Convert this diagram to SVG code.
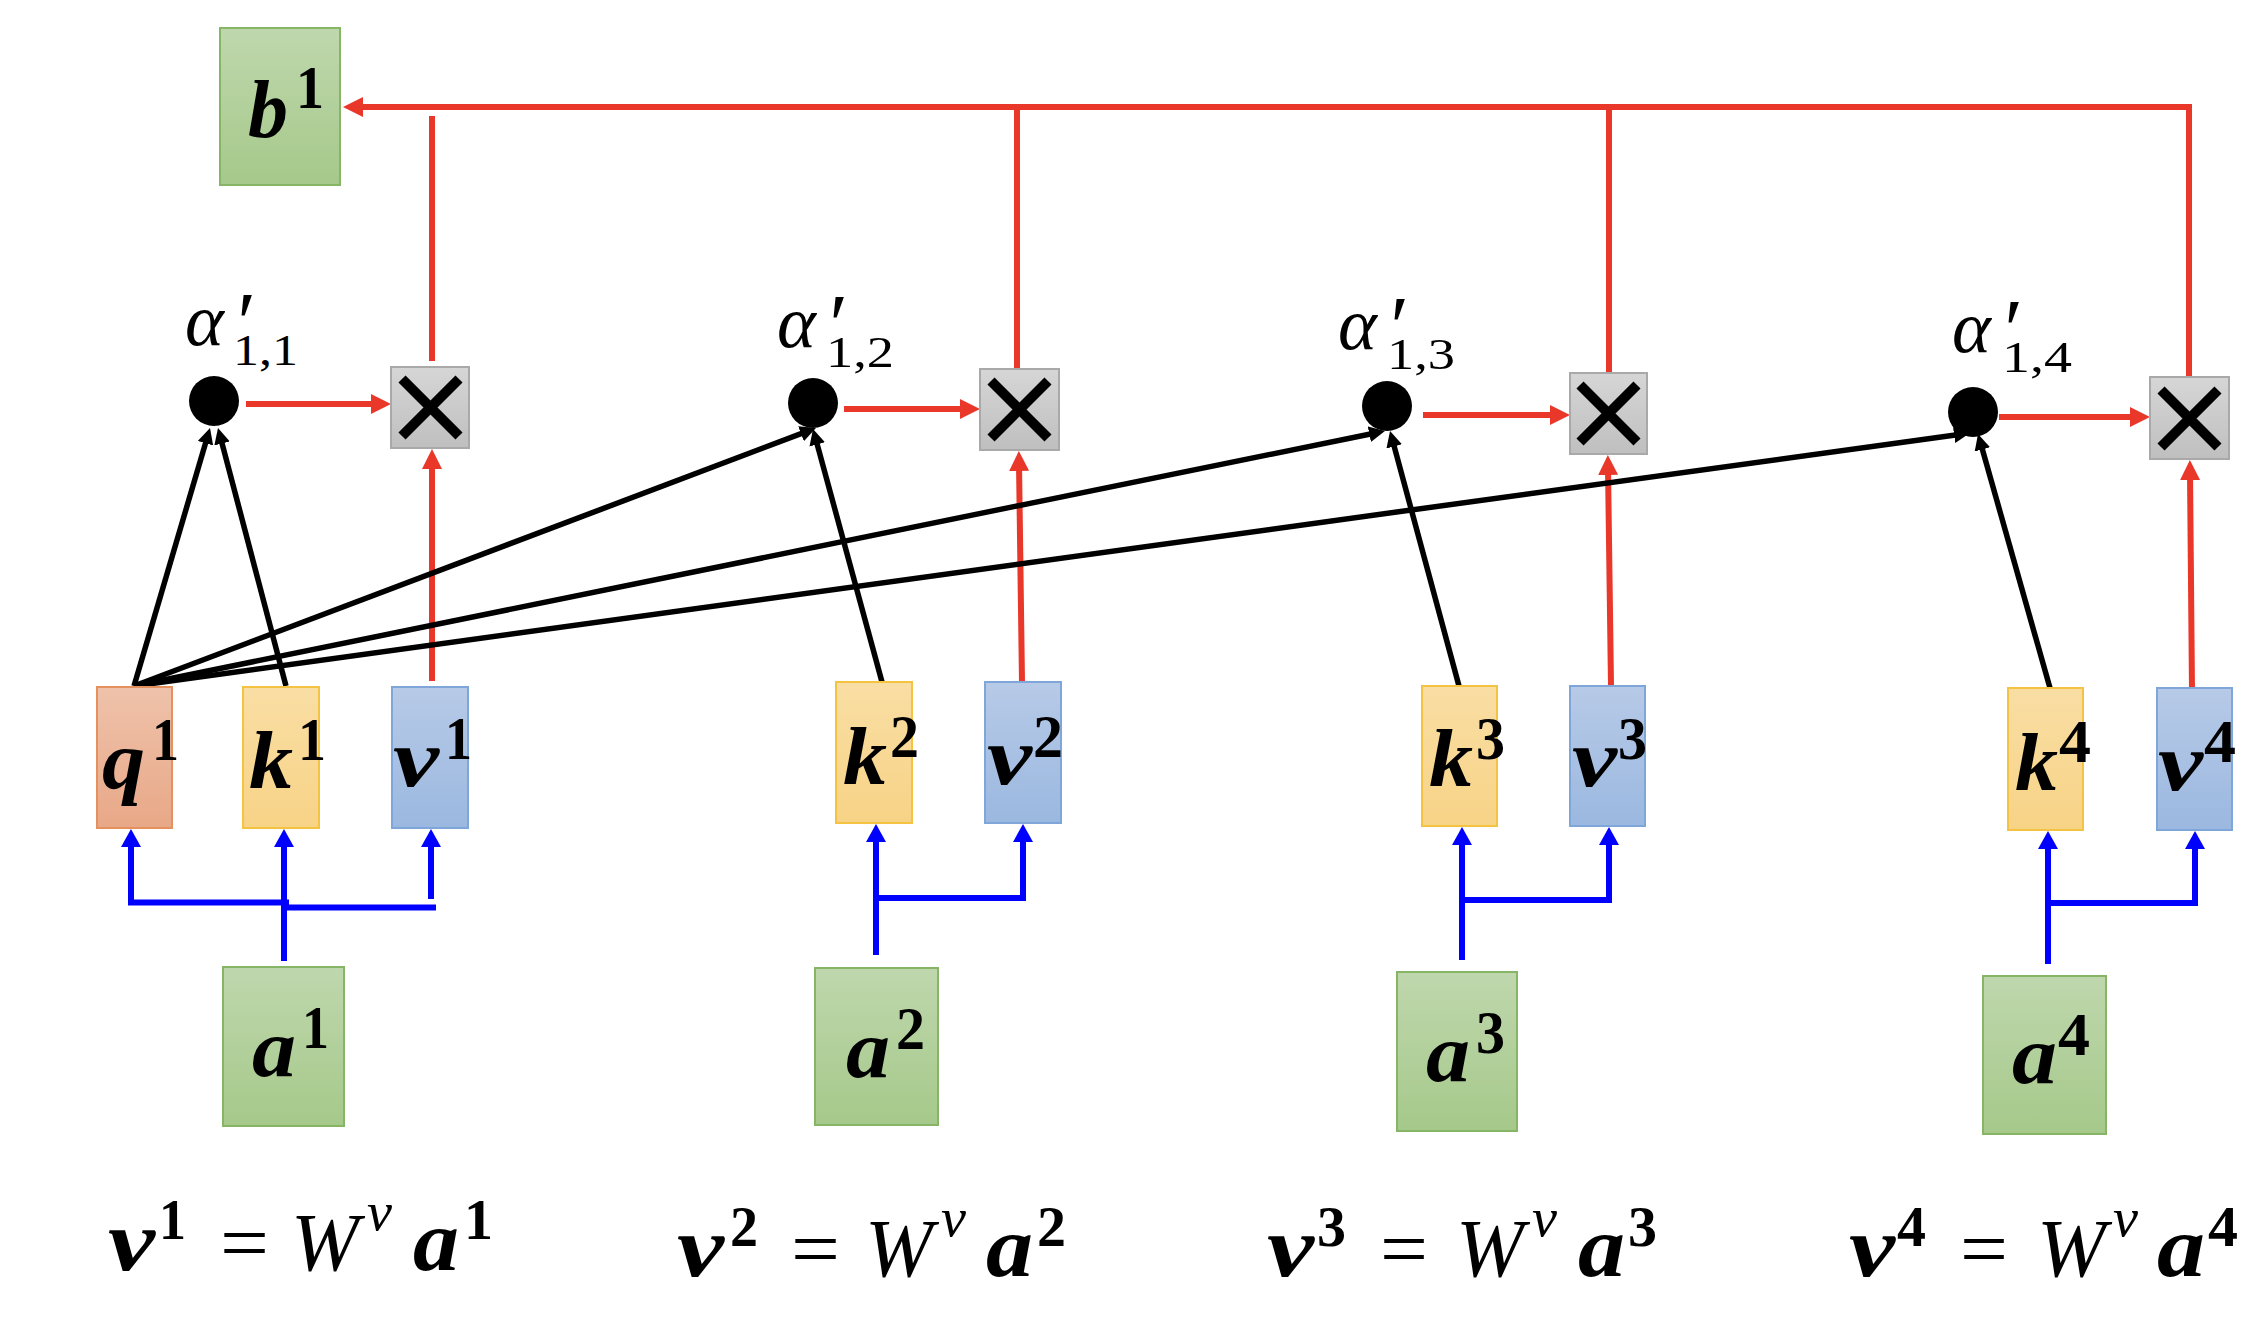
<svg xmlns="http://www.w3.org/2000/svg" width="2259" height="1319" viewBox="0 0 2259 1319">
<style>
.m{font-family:"Liberation Serif","DejaVu Serif",serif;font-weight:bold;font-style:italic;font-size:82px;fill:#000}
.d{font-family:"Liberation Serif","DejaVu Serif",serif;font-weight:bold;font-size:61px;fill:#000}
.eb{font-family:"Liberation Serif","DejaVu Serif",serif;font-weight:bold;font-style:italic;font-size:86px;fill:#000}
.ed{font-family:"Liberation Serif","DejaVu Serif",serif;font-weight:bold;font-size:58px;fill:#000}
.ei{font-family:"Liberation Serif","DejaVu Serif",serif;font-style:italic;font-size:82px;fill:#000}
.er{font-family:"Liberation Serif","DejaVu Serif",serif;font-size:80px;fill:#000}
.es{font-family:"Liberation Serif","DejaVu Serif",serif;font-style:italic;font-size:54px;fill:#000}
.al{font-family:"Liberation Serif","DejaVu Serif",serif;font-style:italic;font-size:74px;fill:#000}
.pr{font-family:"Liberation Serif","DejaVu Serif",serif;font-size:86px}
.sb{font-family:"Liberation Serif","DejaVu Serif",serif;font-style:normal;font-size:44px}
.gb{fill:url(#gG);stroke:#86b566;stroke-width:2}
.qb{fill:url(#gQ);stroke:#e4915f;stroke-width:2}
.kb{fill:url(#gK);stroke:#f5c342;stroke-width:2}
.vb{fill:url(#gV);stroke:#7ea6d8;stroke-width:2}
.xb{fill:url(#gX);stroke:#a9a9a9;stroke-width:2}
.xs{stroke:#000;stroke-width:10;fill:none}
.red{stroke:#e9372a;stroke-width:6;fill:none}
.redA{stroke:#e9372a;stroke-width:6;fill:none;marker-end:url(#aR)}
.blu{stroke:#0000ff;stroke-width:6;fill:none}
.bluA{stroke:#0000ff;stroke-width:6;fill:none;marker-end:url(#aB)}
.blkA{stroke:#000;stroke-width:5.5;fill:none;marker-end:url(#aK)}
</style>
<defs>
<linearGradient id="gG" x1="0" y1="0" x2="0" y2="1"><stop offset="0" stop-color="#bfd7ad"/><stop offset="1" stop-color="#a5c98a"/></linearGradient>
<linearGradient id="gQ" x1="0" y1="0" x2="0" y2="1"><stop offset="0" stop-color="#efc2ab"/><stop offset="1" stop-color="#e8a887"/></linearGradient>
<linearGradient id="gK" x1="0" y1="0" x2="0" y2="1"><stop offset="0" stop-color="#f9dea4"/><stop offset="1" stop-color="#f7d386"/></linearGradient>
<linearGradient id="gV" x1="0" y1="0" x2="0" y2="1"><stop offset="0" stop-color="#b7cae7"/><stop offset="1" stop-color="#9bb8e0"/></linearGradient>
<linearGradient id="gX" x1="0" y1="0" x2="0" y2="1"><stop offset="0" stop-color="#d6d6d6"/><stop offset="1" stop-color="#bfbfbf"/></linearGradient>
<marker id="aR" markerUnits="userSpaceOnUse" markerWidth="22" markerHeight="22" refX="8" refY="10" orient="auto"><path d="M0,0 L20,10 L0,20 z" fill="#e9372a"/></marker>
<marker id="aB" markerUnits="userSpaceOnUse" markerWidth="22" markerHeight="22" refX="6" refY="10" orient="auto"><path d="M0,0 L18,10 L0,20 z" fill="#0000ff"/></marker>
<marker id="aK" markerUnits="userSpaceOnUse" markerWidth="18" markerHeight="18" refX="5" refY="8" orient="auto"><path d="M0,0 L16,8 L0,16 z" fill="#000"/></marker>
</defs>
<rect width="2259" height="1319" fill="#fff"/>

<g id="connectors">
<path class="redA" d="M2189,377 V107 H355"/>
<path class="red" d="M1017,369 V104"/>
<path class="red" d="M1609,373 V104"/>
<path class="red" d="M432,361 V116"/>
<path class="redA" d="M246,404 H379"/>
<path class="redA" d="M844,409 H968"/>
<path class="redA" d="M1423,415 H1558"/>
<path class="redA" d="M1999,417 H2138"/>
<path class="redA" d="M432,681 V461"/>
<path class="redA" d="M1022,682 L1019,463"/>
<path class="redA" d="M1611,686 L1608,467"/>
<path class="redA" d="M2192,691 L2190,472"/>
<path class="blkA" d="M134,686 L206.9,438.5"/>
<path class="blkA" d="M286,686 L220.8,438.6"/>
<path class="blkA" d="M134,686 L805.7,431.9"/>
<path class="blkA" d="M882,682 L815.9,439.6"/>
<path class="blkA" d="M134,686 L1374.2,433.2"/>
<path class="blkA" d="M1459,686 L1392.9,441.6"/>
<path class="blkA" d="M134,686 L1959.1,434.5"/>
<path class="blkA" d="M2050,688 L1981,444.6"/>
<path class="bluA" d="M284,961 V841"/>
<path class="bluA" d="M289,902.5 H131 V841"/>
<path class="blu" d="M287,907.5 H436"/>
<path class="bluA" d="M431,899 V841"/>
<path class="bluA" d="M876,955 V836"/>
<path class="bluA" d="M876,898 H1023 V836"/>
<path class="bluA" d="M1462,960 V839"/>
<path class="bluA" d="M1462,900 H1609 V839"/>
<path class="bluA" d="M2048,964 V843"/>
<path class="bluA" d="M2048,903 H2195 V843"/>
</g>

<g id="b1"><rect class="gb" x="220" y="28" width="120" height="157"/><text class="m" x="248" y="137" textLength="40" lengthAdjust="spacingAndGlyphs">b</text><text class="d" x="296" y="108" textLength="28" lengthAdjust="spacingAndGlyphs">1</text></g>

<g id="q1"><rect class="qb" x="97" y="687" width="75" height="141"/><text class="m" x="102" y="788" textLength="43" lengthAdjust="spacingAndGlyphs">q</text><text class="d" x="152" y="760" textLength="27" lengthAdjust="spacingAndGlyphs">1</text></g>
<g id="k1"><rect class="kb" x="243" y="687" width="76" height="141"/><text class="m" x="249" y="788" textLength="44" lengthAdjust="spacingAndGlyphs">k</text><text class="d" x="298" y="760" textLength="28" lengthAdjust="spacingAndGlyphs">1</text></g>
<g id="v1"><rect class="vb" x="392" y="687" width="76" height="141"/><text class="m" x="393" y="786" textLength="46" lengthAdjust="spacingAndGlyphs">v</text><text class="d" x="445" y="759" textLength="27" lengthAdjust="spacingAndGlyphs">1</text></g>
<g id="a1"><rect class="gb" x="223" y="967" width="121" height="159"/><text class="m" x="252" y="1076" textLength="44" lengthAdjust="spacingAndGlyphs">a</text><text class="d" x="302" y="1048" textLength="27" lengthAdjust="spacingAndGlyphs">1</text></g>

<g id="k2"><rect class="kb" x="836" y="682" width="76" height="141"/><text class="m" x="843" y="784" textLength="44" lengthAdjust="spacingAndGlyphs">k</text><text class="d" x="890" y="757" textLength="29" lengthAdjust="spacingAndGlyphs">2</text></g>
<g id="v2"><rect class="vb" x="985" y="682" width="76" height="141"/><text class="m" x="987" y="784" textLength="45" lengthAdjust="spacingAndGlyphs">v</text><text class="d" x="1033" y="757" textLength="30" lengthAdjust="spacingAndGlyphs">2</text></g>
<g id="a2"><rect class="gb" x="815" y="968" width="123" height="157"/><text class="m" x="846" y="1077" textLength="44" lengthAdjust="spacingAndGlyphs">a</text><text class="d" x="896" y="1049" textLength="29" lengthAdjust="spacingAndGlyphs">2</text></g>

<g id="k3"><rect class="kb" x="1422" y="686" width="75" height="140"/><text class="m" x="1429" y="786" textLength="44" lengthAdjust="spacingAndGlyphs">k</text><text class="d" x="1476" y="759" textLength="29" lengthAdjust="spacingAndGlyphs">3</text></g>
<g id="v3"><rect class="vb" x="1570" y="686" width="75" height="140"/><text class="m" x="1572" y="786" textLength="45" lengthAdjust="spacingAndGlyphs">v</text><text class="d" x="1618" y="759" textLength="29" lengthAdjust="spacingAndGlyphs">3</text></g>
<g id="a3"><rect class="gb" x="1397" y="972" width="120" height="159"/><text class="m" x="1426" y="1081" textLength="44" lengthAdjust="spacingAndGlyphs">a</text><text class="d" x="1476" y="1053" textLength="29" lengthAdjust="spacingAndGlyphs">3</text></g>

<g id="k4"><rect class="kb" x="2008" y="688" width="75" height="142"/><text class="m" x="2015" y="790" textLength="43" lengthAdjust="spacingAndGlyphs">k</text><text class="d" x="2059" y="762" textLength="32" lengthAdjust="spacingAndGlyphs">4</text></g>
<g id="v4"><rect class="vb" x="2157" y="688" width="75" height="142"/><text class="m" x="2158" y="790" textLength="45" lengthAdjust="spacingAndGlyphs">v</text><text class="d" x="2204" y="762" textLength="32" lengthAdjust="spacingAndGlyphs">4</text></g>
<g id="a4"><rect class="gb" x="1983" y="976" width="123" height="158"/><text class="m" x="2012" y="1083" textLength="45" lengthAdjust="spacingAndGlyphs">a</text><text class="d" x="2058" y="1055" textLength="32" lengthAdjust="spacingAndGlyphs">4</text></g>

<g id="alpha11"><circle cx="214" cy="401" r="25"/><text class="al" x="185" y="345">α<tspan class="pr" x="232" y="352">′</tspan><tspan class="sb" x="233" y="365" textLength="65" lengthAdjust="spacingAndGlyphs">1,1</tspan></text></g>
<g id="alpha12"><circle cx="813" cy="403" r="25"/><text class="al" x="777" y="347">α<tspan class="pr" x="824" y="354">′</tspan><tspan class="sb" x="826" y="367" textLength="68" lengthAdjust="spacingAndGlyphs">1,2</tspan></text></g>
<g id="alpha13"><circle cx="1387" cy="406" r="25"/><text class="al" x="1338" y="349">α<tspan class="pr" x="1385" y="356">′</tspan><tspan class="sb" x="1387" y="369" textLength="68" lengthAdjust="spacingAndGlyphs">1,3</tspan></text></g>
<g id="alpha14"><circle cx="1973" cy="412" r="25"/><text class="al" x="1952" y="352">α<tspan class="pr" x="1999" y="359">′</tspan><tspan class="sb" x="2002" y="372" textLength="70" lengthAdjust="spacingAndGlyphs">1,4</tspan></text></g>

<g id="mul1"><rect class="xb" x="391" y="367" width="78" height="81"/><path class="xs" d="M402,379 L459,436 M459,379 L402,436"/></g>
<g id="mul2"><rect class="xb" x="980" y="369" width="79" height="81"/><path class="xs" d="M991,381 L1048,438 M1048,381 L991,438"/></g>
<g id="mul3"><rect class="xb" x="1570" y="373" width="77" height="81"/><path class="xs" d="M1580,385 L1637,442 M1637,385 L1580,442"/></g>
<g id="mul4"><rect class="xb" x="2150" y="377" width="79" height="82"/><path class="xs" d="M2161,390 L2218,447 M2218,390 L2161,447"/></g>

<g id="eq1"><text class="eb" x="108" y="1270" textLength="47" lengthAdjust="spacingAndGlyphs">v</text><text class="ed" x="159" y="1239" textLength="27" lengthAdjust="spacingAndGlyphs">1</text><text class="er" x="220" y="1270" textLength="49" lengthAdjust="spacingAndGlyphs">=</text><text class="ei" x="291" y="1270" textLength="68" lengthAdjust="spacingAndGlyphs">W</text><text class="es" x="367" y="1230" textLength="25" lengthAdjust="spacingAndGlyphs">v</text><text class="eb" x="413" y="1270" textLength="46" lengthAdjust="spacingAndGlyphs">a</text><text class="ed" x="464" y="1239" textLength="29" lengthAdjust="spacingAndGlyphs">1</text></g>
<g id="eq2"><text class="eb" x="677" y="1276" textLength="47" lengthAdjust="spacingAndGlyphs">v</text><text class="ed" x="730" y="1246" textLength="28" lengthAdjust="spacingAndGlyphs">2</text><text class="er" x="791" y="1276" textLength="49" lengthAdjust="spacingAndGlyphs">=</text><text class="ei" x="865" y="1276" textLength="68" lengthAdjust="spacingAndGlyphs">W</text><text class="es" x="941" y="1236" textLength="25" lengthAdjust="spacingAndGlyphs">v</text><text class="eb" x="986" y="1276" textLength="47" lengthAdjust="spacingAndGlyphs">a</text><text class="ed" x="1037" y="1246" textLength="29" lengthAdjust="spacingAndGlyphs">2</text></g>
<g id="eq3"><text class="eb" x="1267" y="1276" textLength="47" lengthAdjust="spacingAndGlyphs">v</text><text class="ed" x="1317" y="1246" textLength="29" lengthAdjust="spacingAndGlyphs">3</text><text class="er" x="1380" y="1276" textLength="48" lengthAdjust="spacingAndGlyphs">=</text><text class="ei" x="1456" y="1276" textLength="68" lengthAdjust="spacingAndGlyphs">W</text><text class="es" x="1532" y="1236" textLength="25" lengthAdjust="spacingAndGlyphs">v</text><text class="eb" x="1578" y="1276" textLength="47" lengthAdjust="spacingAndGlyphs">a</text><text class="ed" x="1628" y="1246" textLength="29" lengthAdjust="spacingAndGlyphs">3</text></g>
<g id="eq4"><text class="eb" x="1849" y="1276" textLength="46" lengthAdjust="spacingAndGlyphs">v</text><text class="ed" x="1897" y="1246" textLength="29" lengthAdjust="spacingAndGlyphs">4</text><text class="er" x="1960" y="1276" textLength="48" lengthAdjust="spacingAndGlyphs">=</text><text class="ei" x="2037" y="1276" textLength="69" lengthAdjust="spacingAndGlyphs">W</text><text class="es" x="2113" y="1236" textLength="25" lengthAdjust="spacingAndGlyphs">v</text><text class="eb" x="2157" y="1276" textLength="48" lengthAdjust="spacingAndGlyphs">a</text><text class="ed" x="2208" y="1246" textLength="30" lengthAdjust="spacingAndGlyphs">4</text></g>
</svg>
